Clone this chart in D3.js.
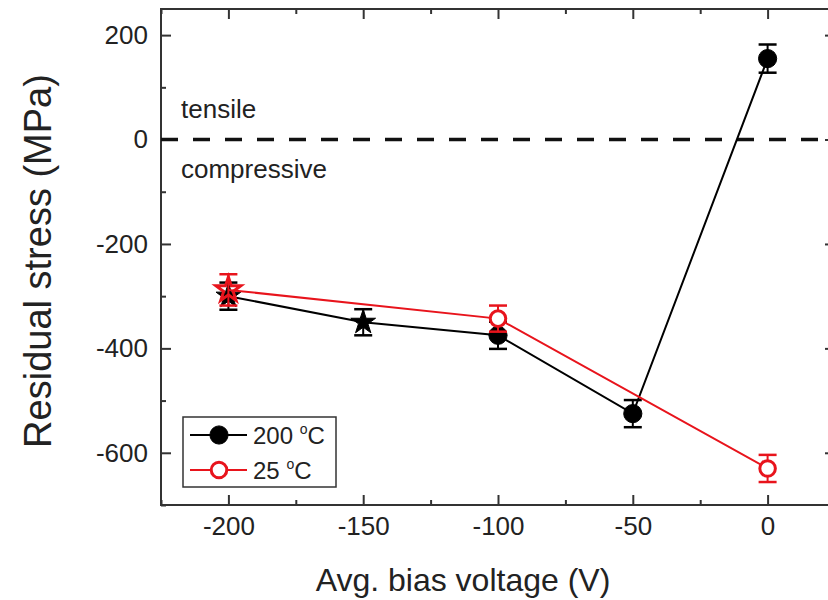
<!DOCTYPE html>
<html lang="en">
<head>
    <meta charset="UTF-8">
    <title>Residual stress vs bias voltage</title>
    <script src="https://d3js.org/d3.v7.min.js"></script>
    <style>
        body { margin: 0; background: #fff; }
        text { font-family: "Liberation Sans", Arial, sans-serif; fill: #222; }
    </style>
</head>
<body>
    <div id="plot"></div>

    <script>
        // Data
        const voltage200 = [-200, -150, -100, -50, 0];
        const stress200 = [-300, -350, -375, -525, 155];
        const err200 = [26, 25, 26, 26, 27];
        const marker200 = ['star', 'star', 'circle', 'circle', 'circle'];

        const voltage25 = [-200, -100, 0];
        const stress25 = [-288, -343, -630];
        const err25 = [30, 25, 26];
        const marker25 = ['star', 'circle', 'circle'];

        const xMajorTicks = [-200, -150, -100, -50, 0];
        const xMinorTicks = [-225, -175, -125, -75, -25, 25];
        const yMajorTicks = [200, 0, -200, -400, -600];
        const yMinorTicks = [100, -100, -300, -500, -700];

        const width = 828;
        const height = 600;
        const margin = { top: 9, right: -7, bottom: 95, left: 161 };

        const svg = d3.select('#plot')
            .append('svg')
            .attr('width', width)
            .attr('height', height);

        const x = d3.scaleLinear()
            .domain([-225, 25])
            .range([margin.left, width - margin.right]);

        const y = d3.scaleLinear()
            .domain([-700, 250])
            .range([height - margin.bottom, margin.top]);

        const axisColor = '#333';

        // axes with inward ticks on all four sides
        function styleAxis(g) {
            g.select('.domain').remove();
            g.selectAll('.tick line').attr('stroke', axisColor).attr('stroke-width', 2);
            g.selectAll('.tick text').attr('font-size', 26).attr('fill', '#222');
        }

        const yBottom = y.range()[0];
        const yTop = y.range()[1];
        const xLeft = x.range()[0];
        const xRight = x.range()[1];

        svg.append('g').attr('transform', `translate(0,${yBottom})`)
            .call(d3.axisBottom(x).tickValues(xMajorTicks).tickSizeInner(-10).tickPadding(12).tickFormat(d => String(d)))
            .call(styleAxis);
        svg.append('g').attr('transform', `translate(0,${yBottom})`)
            .call(d3.axisBottom(x).tickValues(xMinorTicks).tickSizeInner(-5).tickFormat(''))
            .call(styleAxis);
        svg.append('g').attr('transform', `translate(0,${yTop})`)
            .call(d3.axisTop(x).tickValues(xMajorTicks).tickSizeInner(-10).tickFormat(''))
            .call(styleAxis);
        svg.append('g').attr('transform', `translate(0,${yTop})`)
            .call(d3.axisTop(x).tickValues(xMinorTicks).tickSizeInner(-5).tickFormat(''))
            .call(styleAxis);

        svg.append('g').attr('transform', `translate(${xLeft},0)`)
            .call(d3.axisLeft(y).tickValues(yMajorTicks).tickSizeInner(-10).tickPadding(13).tickFormat(d => String(d)))
            .call(styleAxis);
        svg.append('g').attr('transform', `translate(${xLeft},0)`)
            .call(d3.axisLeft(y).tickValues(yMinorTicks).tickSizeInner(-5).tickFormat(''))
            .call(styleAxis);
        svg.append('g').attr('transform', `translate(${xRight},0)`)
            .call(d3.axisRight(y).tickValues(yMajorTicks).tickSizeInner(-10).tickFormat(''))
            .call(styleAxis);
        svg.append('g').attr('transform', `translate(${xRight},0)`)
            .call(d3.axisRight(y).tickValues(yMinorTicks).tickSizeInner(-5).tickFormat(''))
            .call(styleAxis);

        // frame
        svg.append('rect')
            .attr('x', xLeft).attr('y', yTop)
            .attr('width', xRight - xLeft).attr('height', yBottom - yTop)
            .attr('fill', 'none').attr('stroke', axisColor).attr('stroke-width', 2);

        // zero line
        svg.append('line')
            .attr('x1', xLeft).attr('x2', xRight)
            .attr('y1', y(0)).attr('y2', y(0))
            .attr('stroke', '#111').attr('stroke-width', 3.5)
            .attr('stroke-dasharray', '17,15');

        svg.append('text').attr('x', 181).attr('y', y(0) - 22)
            .attr('font-size', 26).text('tensile');
        svg.append('text').attr('x', 181).attr('y', y(0) + 38)
            .attr('font-size', 26).text('compressive');

        // axis titles
        svg.append('text')
            .attr('x', 463).attr('y', 591)
            .attr('text-anchor', 'middle').attr('font-size', 32)
            .text('Avg. bias voltage (V)');
        svg.append('text')
            .attr('transform', 'translate(51,261) rotate(-90)')
            .attr('text-anchor', 'middle').attr('font-size', 38)
            .text('Residual stress (MPa)');

        const circle = d3.symbol().type(d3.symbolCircle).size(260);
        const openCircle = d3.symbol().type(d3.symbolCircle).size(190);
        const star = d3.symbol().type(d3.symbolStar).size(190);

        function drawSeries(xs, ys, errs, markers, color, filled) {
            const pts = xs.map((v, i) => ({ x: v, y: ys[i], e: errs[i], m: markers[i] }));
            const line = d3.line().x(d => x(d.x)).y(d => y(d.y));
            svg.append('path').datum(pts)
                .attr('fill', 'none').attr('stroke', color).attr('stroke-width', 2)
                .attr('d', line);

            const g = svg.append('g');
            pts.forEach(d => {
                const cx = x(d.x);
                g.append('line').attr('x1', cx).attr('x2', cx)
                    .attr('y1', y(d.y + d.e)).attr('y2', y(d.y - d.e))
                    .attr('stroke', color).attr('stroke-width', 2);
                [d.y + d.e, d.y - d.e].forEach(v => {
                    g.append('line').attr('x1', cx - 9).attr('x2', cx + 9)
                        .attr('y1', y(v)).attr('y2', y(v))
                        .attr('stroke', color).attr('stroke-width', 2.5);
                });
                const sym = d.m === 'star' ? star : (filled ? circle : openCircle);
                g.append('path')
                    .attr('transform', `translate(${cx},${y(d.y)})`)
                    .attr('d', sym())
                    .attr('fill', filled ? color : (d.m === 'star' ? 'none' : '#fff'))
                    .attr('stroke', color)
                    .attr('stroke-width', filled ? 1 : 3);
            });
        }

        drawSeries(voltage200, stress200, err200, marker200, '#000', true);
        drawSeries(voltage25, stress25, err25, marker25, '#e8141c', false);

        // legend
        const lg = svg.append('g');
        lg.append('rect').attr('x', 183).attr('y', 417).attr('width', 153).attr('height', 70)
            .attr('fill', '#fff').attr('stroke', axisColor).attr('stroke-width', 1.5);
        const legendItems = [
            { label: '200 ', color: '#000', filled: true, ly: 435 },
            { label: '25 ', color: '#e8141c', filled: false, ly: 470 }
        ];
        legendItems.forEach(it => {
            lg.append('line').attr('x1', 190).attr('x2', 247).attr('y1', it.ly).attr('y2', it.ly)
                .attr('stroke', it.color).attr('stroke-width', 2);
            lg.append('path').attr('transform', `translate(219,${it.ly})`)
                .attr('d', it.filled ? circle() : openCircle())
                .attr('fill', it.filled ? it.color : '#fff')
                .attr('stroke', it.color).attr('stroke-width', it.filled ? 1 : 3);
            const t = lg.append('text').attr('x', 253).attr('y', it.ly + 9).attr('font-size', 24);
            t.append('tspan').text(it.label);
            t.append('tspan').attr('font-size', 14).attr('dy', -10).text('o');
            t.append('tspan').attr('dy', 10).text('C');
        });
    </script>
</body>
</html>
